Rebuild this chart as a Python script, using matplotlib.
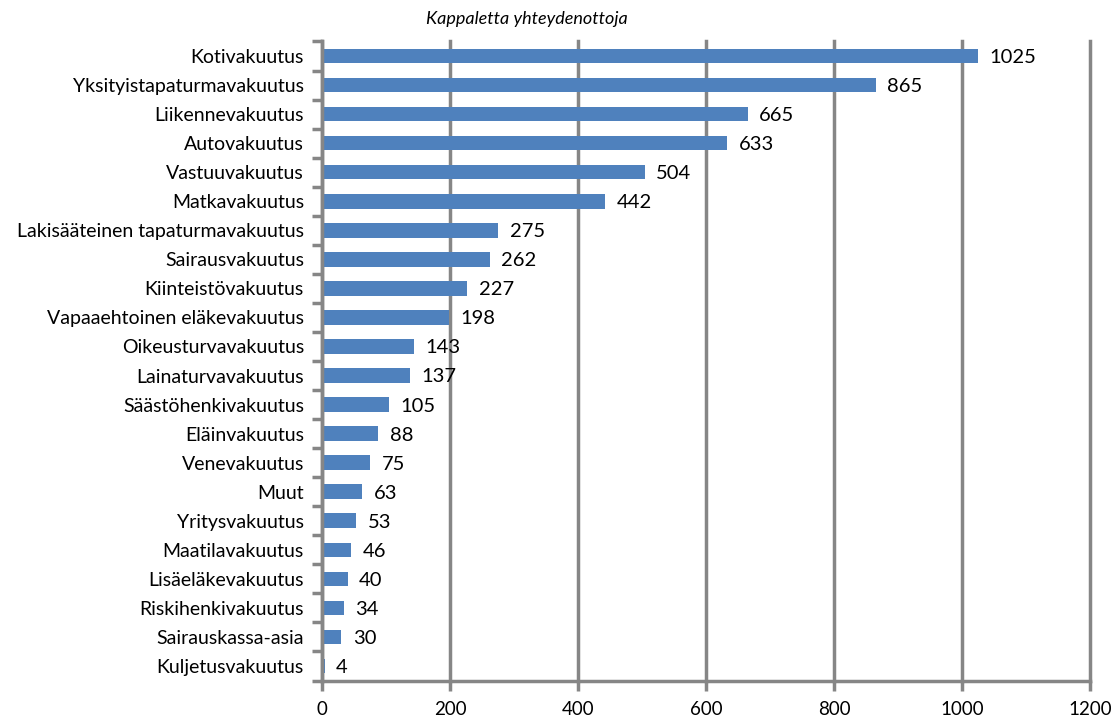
import matplotlib
matplotlib.use("Agg")
import matplotlib.pyplot as plt
from matplotlib.ticker import FixedLocator

categories = [
    "Kotivakuutus", "Yksityistapaturmavakuutus", "Liikennevakuutus", "Autovakuutus",
    "Vastuuvakuutus", "Matkavakuutus", "Lakisääteinen tapaturmavakuutus", "Sairausvakuutus",
    "Kiinteistövakuutus", "Vapaaehtoinen eläkevakuutus", "Oikeusturvavakuutus",
    "Lainaturvavakuutus", "Säästöhenkivakuutus", "Eläinvakuutus", "Venevakuutus", "Muut",
    "Yritysvakuutus", "Maatilavakuutus", "Lisäeläkevakuutus", "Riskihenkivakuutus",
    "Sairauskassa-asia", "Kuljetusvakuutus",
]
values = [1025, 865, 665, 633, 504, 442, 275, 262, 227, 198, 143, 137, 105, 88, 75, 63,
          53, 46, 40, 34, 30, 4]
xticks = [0, 200, 400, 600, 800, 1000, 1200]
title = "Kappaletta yhteydenottoja"

plt.rcParams["font.family"] = ["Lato", "DejaVu Sans"]

grey = "#868686"
bar_color = "#4F81BD"

fig = plt.figure(figsize=(11.13, 7.17), dpi=100)
ax = fig.add_axes([322 / 1113, 1 - 680.5 / 717, (1090 - 322) / 1113, (680.5 - 41.5) / 717])

n = len(categories)
ypos = list(range(n))
ax.barh(ypos, values, height=0.5, color=bar_color, zorder=3)
ax.set_ylim(n - 0.5, -0.5)
ax.set_xlim(0, 1200)

for y, v in zip(ypos, values):
    ax.text(v + 18, y + 0.05, str(v), va="center", ha="left", fontsize=14.5, color="black", zorder=4)

ax.set_xticks(xticks)
ax.set_xticklabels([str(t) for t in xticks], fontsize=13.5)
ax.set_yticks(ypos)
ax.set_yticklabels(categories, fontsize=14)
ax.tick_params(axis="y", length=0, pad=13)
ax.yaxis.set_minor_locator(FixedLocator([i - 0.5 for i in range(n + 1)]))
ax.tick_params(axis="y", which="minor", length=7, width=2.5, color=grey)
ax.tick_params(axis="x", length=7, width=2.5, color=grey, pad=8)

ax.grid(axis="x", color=grey, linewidth=2.5, zorder=1)
for line in ax.get_xgridlines():
    line.set_clip_on(False)
for side in ("top", "right"):
    ax.spines[side].set_visible(False)
for side in ("left", "bottom"):
    ax.spines[side].set_color(grey)
    ax.spines[side].set_linewidth(2.5)
    ax.spines[side].set_zorder(5)

fig.text(527 / 1113, 1 - 19 / 717, title, ha="center", va="center", fontsize=13, style="italic")

fig.savefig("out.png", dpi=100)
